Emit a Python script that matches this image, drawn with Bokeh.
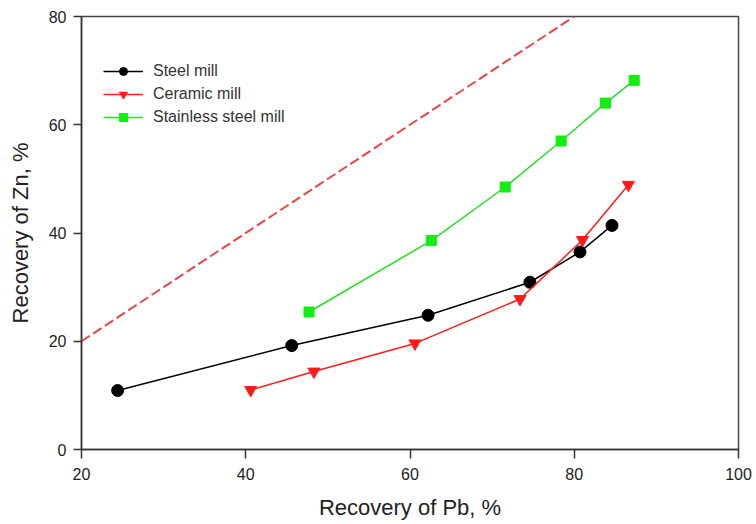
from bokeh.plotting import figure
from bokeh.models import Range1d, Legend, LegendItem
from bokeh.embed import file_html
from bokeh.resources import INLINE

# Recovery of Pb (x) vs recovery of Zn (y), %
steel_pb = [24.4, 45.6, 62.2, 74.6, 80.7, 84.6]
steel_zn = [10.9, 19.2, 24.8, 30.9, 36.5, 41.4]

ceramic_pb = [40.6, 48.3, 60.6, 73.4, 81.0, 86.6]
ceramic_zn = [11.0, 14.4, 19.6, 27.8, 38.7, 48.9]

stainless_pb = [47.7, 62.6, 71.6, 78.4, 83.8, 87.3]
stainless_zn = [25.4, 38.6, 48.5, 57.0, 64.0, 68.2]

# 1:1 reference line
ref_x = [20, 80]
ref_y = [20, 80]

x_ticks = [20, 40, 60, 80, 100]
y_ticks = [0, 20, 40, 60, 80]

FONT = "Liberation Sans"
TXT = "#222222"

p = figure(width=756, height=524, output_backend="svg", toolbar_location=None,
           x_range=Range1d(20, 100), y_range=Range1d(0, 80),
           min_border_left=81, min_border_right=18, min_border_top=16,
           min_border_bottom=75)
p.background_fill_color = "white"
p.border_fill_color = "white"
p.outline_line_color = "#444444"
p.outline_line_width = 1.5
p.xgrid.visible = False
p.ygrid.visible = False

p.xaxis.ticker = x_ticks
p.yaxis.ticker = y_ticks
p.xaxis.axis_label = "Recovery of Pb, %"
p.yaxis.axis_label = "Recovery of Zn, %"
for ax in (p.xaxis[0], p.yaxis[0]):
    ax.axis_line_color = "#333333"
    ax.axis_line_width = 1.5
    ax.major_tick_line_color = "#333333"
    ax.major_tick_line_width = 1.5
    ax.major_tick_in = 0
    ax.minor_tick_in = 0
    ax.minor_tick_out = 0
    ax.major_label_text_font = FONT
    ax.major_label_text_font_size = "16px"
    ax.major_label_text_color = TXT
    ax.axis_label_text_font = FONT
    ax.axis_label_text_font_size = "22px"
    ax.axis_label_text_font_style = "normal"
    ax.axis_label_text_color = TXT
p.xaxis.major_tick_out = 9
p.xaxis.major_label_standoff = 9
p.xaxis.axis_label_standoff = 12
p.yaxis.major_tick_out = 8
p.yaxis.major_label_standoff = 7
p.yaxis.axis_label_standoff = 13

p.line(ref_x, ref_y, line_color="#e8454a", line_width=2, line_dash="10 4")

l1 = p.line(steel_pb, steel_zn, line_color="black", line_width=1.5)
m1 = p.scatter(steel_pb, steel_zn, marker="circle", size=12,
               fill_color="black", line_color="black")
l2 = p.line(ceramic_pb, ceramic_zn, line_color="#ff1a1a", line_width=1.5)
m2 = p.scatter(ceramic_pb, ceramic_zn, marker="inverted_triangle", size=12,
               fill_color="#ff1a1a", line_color="#ff1a1a")
l3 = p.line(stainless_pb, stainless_zn, line_color="#22e022", line_width=1.5)
m3 = p.scatter(stainless_pb, stainless_zn, marker="square", size=10,
               fill_color="#11ee11", line_color="#11ee11")

legend = Legend(items=[
    LegendItem(label="Steel mill", renderers=[l1, m1]),
    LegendItem(label="Ceramic mill", renderers=[l2, m2]),
    LegendItem(label="Stainless steel mill", renderers=[l3, m3]),
], location=(22, 322))
legend.padding = 0
legend.margin = 0
legend.spacing = 3
legend.glyph_width = 40
legend.glyph_height = 20
legend.label_standoff = 10
legend.label_text_font = FONT
legend.label_text_font_size = "16px"
legend.label_text_color = "#333333"
legend.border_line_alpha = 0
legend.background_fill_alpha = 0
p.add_layout(legend, "center")

open("out.html", "w").write(file_html(p, INLINE))
